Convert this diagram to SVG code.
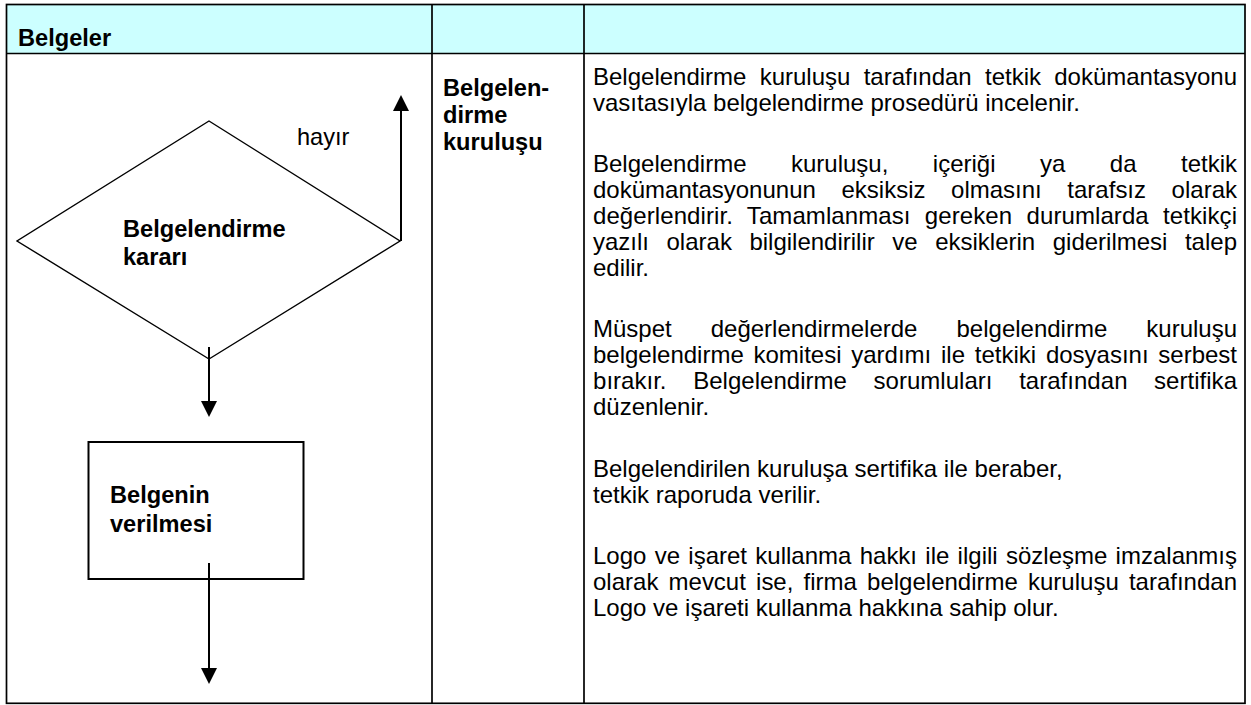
<svg xmlns="http://www.w3.org/2000/svg" width="1251" height="705" viewBox="0 0 1251 705">
  <style>
    .grid { stroke: #000; stroke-width: 1.7; fill: none; }
    .shape { stroke: #000; fill: #fff; }
    .conn { stroke: #000; stroke-width: 2; fill: none; }
    .b { font-family: "Liberation Sans", Arial, sans-serif; font-weight: bold; font-size: 23.6px; fill: #000; }
    .r { font-family: "Liberation Sans", Arial, sans-serif; font-size: 23.6px; fill: #000; }
    .t { font-family: "Liberation Sans", Arial, sans-serif; font-size: 24px; fill: #000; }
  </style>
  <defs>
    <marker id="arrow" markerUnits="userSpaceOnUse" markerWidth="16" markerHeight="16" viewBox="0 0 15 15" refX="0" refY="7.5" orient="auto">
      <path d="M0,0 L15,7.5 L0,15 z" fill="#000"/>
    </marker>
  </defs>
  <rect width="1251" height="705" fill="#fff"/>

  <g id="table">
    <rect x="6" y="4" width="1239" height="49.5" fill="#CCFFFF"/>
    <rect class="grid" x="6.5" y="4.5" width="1238.5" height="698.8"/>
    <line class="grid" x1="6" y1="53.5" x2="1245" y2="53.5"/>
    <line class="grid" x1="432" y1="4" x2="432" y2="703"/>
    <line class="grid" x1="584" y1="4" x2="584" y2="703"/>
    <text class="b" x="18" y="46">Belgeler</text>
  </g>

  <g id="responsible">
    <text class="b" x="443" y="96">Belgelen-</text>
    <text class="b" x="443" y="123">dirme</text>
    <text class="b" x="443" y="150">kuruluşu</text>
  </g>

  <g id="decision">
    <polygon class="shape" stroke-width="1.4" points="209,121 400,241 209,359 17,241"/>
    <text class="b" x="123" y="237">Belgelendirme</text>
    <text class="b" x="123" y="265">kararı</text>
  </g>

  <g id="issue">
    <rect class="shape" stroke-width="2" x="88.5" y="442" width="215" height="137"/>
    <text class="b" x="110" y="503">Belgenin</text>
    <text class="b" x="110" y="532">verilmesi</text>
  </g>

  <g id="connectors">
    <line class="conn" x1="401" y1="241" x2="401" y2="111" marker-end="url(#arrow)"/>
    <text class="r" x="297" y="145">hayır</text>
    <line class="conn" x1="209" y1="347" x2="209" y2="401" marker-end="url(#arrow)"/>
    <line class="conn" x1="209" y1="563" x2="209" y2="668" marker-end="url(#arrow)"/>
  </g>

  <g id="description">
    <text class="t" x="593" y="85" textLength="644" lengthAdjust="spacing" style="word-spacing:6.6px">Belgelendirme kuruluşu tarafından tetkik dokümantasyonu</text>
    <text class="t" x="593" y="111">vasıtasıyla belgelendirme prosedürü incelenir.</text>

    <text class="t" x="593" y="172" textLength="644" lengthAdjust="spacing" style="word-spacing:37.8px">Belgelendirme kuruluşu, içeriği ya da tetkik</text>
    <text class="t" x="593" y="198" textLength="644" lengthAdjust="spacing" style="word-spacing:18.9px">dokümantasyonunun eksiksiz olmasını tarafsız olarak</text>
    <text class="t" x="593" y="224" textLength="644" lengthAdjust="spacing" style="word-spacing:7.6px">değerlendirir. Tamamlanması gereken durumlarda tetkikçi</text>
    <text class="t" x="593" y="250" textLength="644" lengthAdjust="spacing" style="word-spacing:10.9px">yazılı olarak bilgilendirilir ve eksiklerin giderilmesi talep</text>
    <text class="t" x="593" y="276">edilir.</text>

    <text class="t" x="593" y="337" textLength="644" lengthAdjust="spacing" style="word-spacing:32.4px">Müspet değerlendirmelerde belgelendirme kuruluşu</text>
    <text class="t" x="593" y="363" textLength="644" lengthAdjust="spacing" style="word-spacing:3.1px">belgelendirme komitesi yardımı ile tetkiki dosyasını serbest</text>
    <text class="t" x="593" y="389" textLength="644" lengthAdjust="spacing" style="word-spacing:19.9px">bırakır. Belgelendirme sorumluları tarafından sertifika</text>
    <text class="t" x="593" y="415">düzenlenir.</text>

    <text class="t" x="593" y="477">Belgelendirilen kuruluşa sertifika ile beraber,</text>
    <text class="t" x="593" y="503">tetkik raporuda verilir.</text>

    <text class="t" x="593" y="564" textLength="644" lengthAdjust="spacing" style="word-spacing:1.6px">Logo ve işaret kullanma hakkı ile ilgili sözleşme imzalanmış</text>
    <text class="t" x="593" y="590" textLength="644" lengthAdjust="spacing" style="word-spacing:3.5px">olarak mevcut ise, firma belgelendirme kuruluşu tarafından</text>
    <text class="t" x="593" y="616">Logo ve işareti kullanma hakkına sahip olur.</text>
  </g>
</svg>
